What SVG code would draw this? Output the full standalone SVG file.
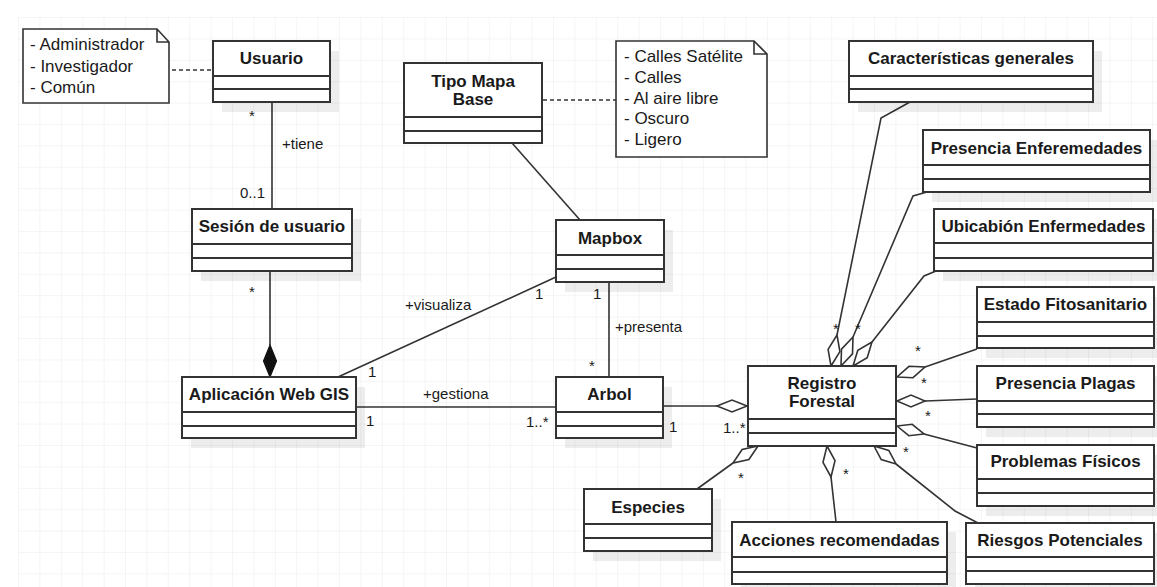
<svg xmlns="http://www.w3.org/2000/svg" width="1157" height="587" viewBox="0 0 1157 587">
  <style>
    .box { fill: #ffffff; stroke: #333333; stroke-width: 2; }
    .shadow { fill: #000000; fill-opacity: 0.07; stroke: none; }
    .div { stroke: #333333; stroke-width: 2; }
    .title { font-family: "Liberation Sans", Arial, sans-serif; font-size: 17px; font-weight: bold; fill: #1a1a1a; text-anchor: middle; }
    .note { fill: #ffffff; stroke: #333333; stroke-width: 1.6; }
    .ntext { font-family: "Liberation Sans", Arial, sans-serif; font-size: 17px; fill: #1a1a1a; }
    .lbl { font-family: "Liberation Sans", Arial, sans-serif; font-size: 15px; fill: #1a1a1a; }
    .star { font-family: "Liberation Sans", Arial, sans-serif; font-size: 15px; fill: #1a1a1a; text-anchor: middle; }
    .edge { fill: none; stroke: #333333; stroke-width: 1.6; }
    .dash { fill: none; stroke: #333333; stroke-width: 1.6; stroke-dasharray: 4 3; }
    .agg { fill: #ffffff; stroke: #333333; stroke-width: 1.6; }
    .comp { fill: #111111; stroke: #111111; stroke-width: 1.2; }
  </style>
  <defs>
    <pattern id="grid" x="18" y="17" width="21.4" height="21.4" patternUnits="userSpaceOnUse">
      <path d="M 0 0 L 21.4 0 M 0 0 L 0 21.4" fill="none" stroke="#ececec" stroke-width="1"/>
    </pattern>
  </defs>

  <rect width="1157" height="587" fill="#ffffff"/>
  <rect x="18" y="17" width="1139" height="570" fill="url(#grid)"/>

  <!-- connectors -->
  <g id="connectors">
    <!-- note links -->
    <path class="dash" d="M 172 70 L 213 70"/>
    <path class="dash" d="M 543 100 L 616 100"/>
    <!-- Usuario - Sesión -->
    <path class="edge" d="M 272 102 L 272 209"/>
    <!-- Sesión - Aplicación (composition) -->
    <path class="edge" d="M 270 271 L 270 345"/>
    <polygon class="comp" points="270,345 276.5,361 270,377 263.5,361"/>
    <!-- Tipo Mapa Base - Mapbox -->
    <path class="edge" d="M 512 143 L 580 220"/>
    <!-- visualiza -->
    <path class="edge" d="M 338 377 L 556 277"/>
    <!-- presenta -->
    <path class="edge" d="M 609 282 L 609 377"/>
    <!-- gestiona -->
    <path class="edge" d="M 357 407 L 556 407"/>
    <!-- Arbol - Registro -->
    <path class="edge" d="M 663 406 L 717 406"/>
    <polygon class="agg" points="747,406 732,400 717,406 732,412"/>

    <!-- Registro Forestal aggregations -->
    <path class="edge" d="M 910 102 L 881 118 L 837 335"/>
    <polygon class="agg" points="831,366 839.9,351.6 837,335 828.1,349.4"/>

    <path class="edge" d="M 927 192 L 913 196 L 853 337"/>
    <polygon class="agg" points="841,366 852.5,353.8 853,337 841.5,349.2"/>

    <path class="edge" d="M 936 271 L 924 276 L 872 342"/>
    <polygon class="agg" points="853,366 867.2,357.7 872,342 857.8,350.3"/>

    <path class="edge" d="M 925 367 L 977 349"/>
    <polygon class="agg" points="897,377 913,377.7 925,367 909,366.3"/>

    <path class="edge" d="M 925 401 L 977 399"/>
    <polygon class="agg" points="897,401 911,395 925,401 911,407"/>

    <path class="edge" d="M 924 434 L 977 448"/>
    <polygon class="agg" points="897,426 908.8,435.7 924,434 912.2,424.3"/>

    <path class="edge" d="M 896 464 L 955 511 L 978 523"/>
    <polygon class="agg" points="874,446 881.2,459.6 896,464 888.8,450.4"/>

    <path class="edge" d="M 831 477 L 836 522"/>
    <polygon class="agg" points="827,446 823,462.3 831,477 835,460.7"/>

    <path class="edge" d="M 733 463 L 697 489"/>
    <polygon class="agg" points="758,446 748.9,459.5 733,463 742.1,449.5"/>

    <!-- role names -->
    <text class="lbl" x="282" y="149">+tiene</text>
    <text class="lbl" x="405" y="310">+visualiza</text>
    <text class="lbl" x="615" y="332">+presenta</text>
    <text class="lbl" x="423" y="399">+gestiona</text>

    <!-- multiplicities -->
    <text class="star" x="252" y="121">*</text>
    <text class="lbl" x="240" y="198">0..1</text>
    <text class="star" x="252" y="297">*</text>
    <text class="lbl" x="535" y="299">1</text>
    <text class="lbl" x="368" y="377">1</text>
    <text class="lbl" x="593" y="299">1</text>
    <text class="star" x="592" y="371">*</text>
    <text class="lbl" x="366" y="426">1</text>
    <text class="lbl" x="526" y="427">1..*</text>
    <text class="lbl" x="669" y="432">1</text>
    <text class="lbl" x="723" y="433">1..*</text>
    <text class="star" x="836" y="334">*</text>
    <text class="star" x="858" y="334">*</text>
    <text class="star" x="918" y="356">*</text>
    <text class="star" x="924" y="388">*</text>
    <text class="star" x="928" y="421">*</text>
    <text class="star" x="906" y="457">*</text>
    <text class="star" x="846" y="479">*</text>
    <text class="star" x="741" y="483">*</text>
  </g>

  <!-- notes -->
  <g id="note-roles">
    <path class="note" d="M 23 29 L 157 29 L 169 42 L 169 103 L 23 103 Z M 157 29 L 157 42 L 169 42"/>
    <text class="ntext" x="30" y="50">- Administrador</text>
    <text class="ntext" x="30" y="72">- Investigador</text>
    <text class="ntext" x="30" y="93">- Común</text>
  </g>
  <g id="note-basemaps">
    <path class="note" d="M 616 41 L 754 41 L 767 54 L 767 157 L 616 157 Z M 754 41 L 754 54 L 767 54"/>
    <text class="ntext" x="624" y="62">- Calles Satélite</text>
    <text class="ntext" x="624" y="83">- Calles</text>
    <text class="ntext" x="624" y="104">- Al aire libre</text>
    <text class="ntext" x="624" y="124">- Oscuro</text>
    <text class="ntext" x="624" y="145">- Ligero</text>
  </g>

  <!-- classes -->
  <g id="usuario">
    <rect class="shadow" x="222" y="51" width="117" height="61"/>
    <rect class="box" x="213" y="41" width="117" height="61"/>
    <line class="div" x1="213" y1="76" x2="330" y2="76"/>
    <line class="div" x1="213" y1="89" x2="330" y2="89"/>
    <text class="title" x="271.5" y="64">Usuario</text>
  </g>
  <g id="sesion-usuario">
    <rect class="shadow" x="201" y="219" width="160" height="62"/>
    <rect class="box" x="192" y="209" width="160" height="62"/>
    <line class="div" x1="192" y1="244" x2="352" y2="244"/>
    <line class="div" x1="192" y1="258" x2="352" y2="258"/>
    <text class="title" x="272" y="232">Sesión de usuario</text>
  </g>
  <g id="aplicacion-web-gis">
    <rect class="shadow" x="191" y="387" width="174" height="61"/>
    <rect class="box" x="182" y="377" width="174" height="61"/>
    <line class="div" x1="182" y1="412" x2="356" y2="412"/>
    <line class="div" x1="182" y1="426" x2="356" y2="426"/>
    <text class="title" x="269" y="400">Aplicación Web GIS</text>
  </g>
  <g id="tipo-mapa-base">
    <rect class="box" x="404" y="63" width="138" height="80"/>
    <line class="div" x1="404" y1="117" x2="542" y2="117"/>
    <line class="div" x1="404" y1="131" x2="542" y2="131"/>
    <text class="title" x="473" y="87">Tipo Mapa</text>
    <text class="title" x="473" y="105">Base</text>
  </g>
  <g id="mapbox">
    <rect class="shadow" x="565" y="230" width="108" height="62"/>
    <rect class="box" x="556" y="220" width="108" height="62"/>
    <line class="div" x1="556" y1="255" x2="664" y2="255"/>
    <line class="div" x1="556" y1="269" x2="664" y2="269"/>
    <text class="title" x="610" y="244">Mapbox</text>
  </g>
  <g id="arbol">
    <rect class="shadow" x="565" y="387" width="107" height="61"/>
    <rect class="box" x="556" y="377" width="107" height="61"/>
    <line class="div" x1="556" y1="412" x2="663" y2="412"/>
    <line class="div" x1="556" y1="426" x2="663" y2="426"/>
    <text class="title" x="609.5" y="400">Arbol</text>
  </g>
  <g id="registro-forestal">
    <rect class="box" x="748" y="366" width="148" height="80"/>
    <line class="div" x1="748" y1="419" x2="896" y2="419"/>
    <line class="div" x1="748" y1="433" x2="896" y2="433"/>
    <text class="title" x="822" y="389">Registro</text>
    <text class="title" x="822" y="407">Forestal</text>
  </g>
  <g id="caracteristicas-generales">
    <rect class="shadow" x="858" y="51" width="244" height="61"/>
    <rect class="box" x="849" y="41" width="244" height="61"/>
    <line class="div" x1="849" y1="76" x2="1093" y2="76"/>
    <line class="div" x1="849" y1="89" x2="1093" y2="89"/>
    <text class="title" x="971" y="64">Características generales</text>
  </g>
  <g id="presencia-enfermedades">
    <rect class="shadow" x="932" y="140" width="227" height="62"/>
    <rect class="box" x="923" y="130" width="227" height="62"/>
    <line class="div" x1="923" y1="165" x2="1150" y2="165"/>
    <line class="div" x1="923" y1="179" x2="1150" y2="179"/>
    <text class="title" x="1036.5" y="154">Presencia Enferemedades</text>
  </g>
  <g id="ubicacion-enfermedades">
    <rect class="shadow" x="943" y="219" width="219" height="62"/>
    <rect class="box" x="934" y="209" width="219" height="62"/>
    <line class="div" x1="934" y1="243" x2="1153" y2="243"/>
    <line class="div" x1="934" y1="258" x2="1153" y2="258"/>
    <text class="title" x="1043.5" y="232">Ubicabión Enfermedades</text>
  </g>
  <g id="estado-fitosanitario">
    <rect class="shadow" x="986" y="297" width="177" height="61"/>
    <rect class="box" x="977" y="287" width="177" height="61"/>
    <line class="div" x1="977" y1="322" x2="1154" y2="322"/>
    <line class="div" x1="977" y1="336" x2="1154" y2="336"/>
    <text class="title" x="1065.5" y="310">Estado Fitosanitario</text>
  </g>
  <g id="presencia-plagas">
    <rect class="shadow" x="986" y="376" width="177" height="61"/>
    <rect class="box" x="977" y="366" width="177" height="61"/>
    <line class="div" x1="977" y1="401" x2="1154" y2="401"/>
    <line class="div" x1="977" y1="414" x2="1154" y2="414"/>
    <text class="title" x="1065.5" y="389">Presencia Plagas</text>
  </g>
  <g id="problemas-fisicos">
    <rect class="shadow" x="986" y="455" width="177" height="61"/>
    <rect class="box" x="977" y="445" width="177" height="61"/>
    <line class="div" x1="977" y1="479" x2="1154" y2="479"/>
    <line class="div" x1="977" y1="493" x2="1154" y2="493"/>
    <text class="title" x="1065.5" y="467">Problemas Físicos</text>
  </g>
  <g id="riesgos-potenciales">
    <rect class="shadow" x="975" y="533" width="188" height="61"/>
    <rect class="box" x="966" y="523" width="188" height="61"/>
    <line class="div" x1="966" y1="557" x2="1154" y2="557"/>
    <line class="div" x1="966" y1="571" x2="1154" y2="571"/>
    <text class="title" x="1060" y="546">Riesgos Potenciales</text>
  </g>
  <g id="acciones-recomendadas">
    <rect class="shadow" x="741" y="532" width="215" height="62"/>
    <rect class="box" x="732" y="522" width="215" height="62"/>
    <line class="div" x1="732" y1="557" x2="947" y2="557"/>
    <line class="div" x1="732" y1="572" x2="947" y2="572"/>
    <text class="title" x="839.5" y="546">Acciones recomendadas</text>
  </g>
  <g id="especies">
    <rect class="shadow" x="593" y="499" width="128" height="62"/>
    <rect class="box" x="584" y="489" width="128" height="62"/>
    <line class="div" x1="584" y1="524" x2="712" y2="524"/>
    <line class="div" x1="584" y1="538" x2="712" y2="538"/>
    <text class="title" x="648" y="513">Especies</text>
  </g>
</svg>
